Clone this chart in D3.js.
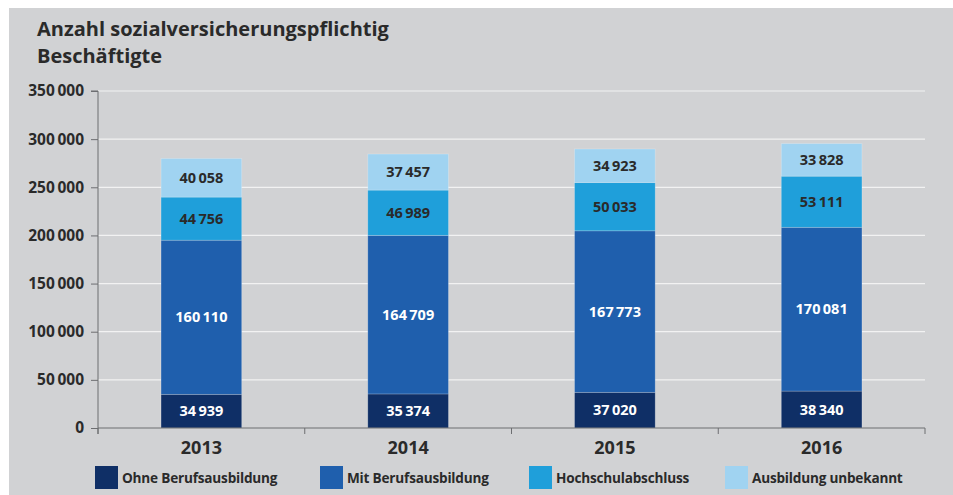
<!DOCTYPE html>
<html>
<head>
<meta charset="utf-8">
<script src="https://cdn.jsdelivr.net/npm/d3@7"></script>
<style>
  body { margin: 0; background: #fff; }
  svg { display: block; font-family: "Open Sans", sans-serif; }
</style>
</head>
<body>
<svg width="953" height="495"></svg>
<script>
// data
const years = ["2013", "2014", "2015", "2016"];
const series = ["Ohne Berufsausbildung", "Mit Berufsausbildung", "Hochschulabschluss", "Ausbildung unbekannt"];
const ohne = [34939, 35374, 37020, 38340];
const mit = [160110, 164709, 167773, 170081];
const hochschule = [44756, 46989, 50033, 53111];
const unbekannt = [40058, 37457, 34923, 33828];
const yTicks = [0, 50000, 100000, 150000, 200000, 250000, 300000, 350000];

const colors = ["#0f2f66", "#1f5fad", "#1f9fda", "#a0d3f1"];
const textColors = ["#fff", "#fff", "#2a2a2a", "#2a2a2a"];

const rows = years.map((y, i) => ({
  year: y,
  [series[0]]: ohne[i],
  [series[1]]: mit[i],
  [series[2]]: hochschule[i],
  [series[3]]: unbekannt[i]
}));

const svg = d3.select("svg");

// grey panel
svg.append("rect").attr("x", 9).attr("y", 8).attr("width", 944).attr("height", 487).attr("fill", "#d1d2d4");

// title
svg.append("text").attr("x", 37).attr("y", 36).attr("font-size", 20).attr("font-weight", 700)
  .attr("fill", "#2a2a2a").text("Anzahl sozialversicherungspflichtig");
svg.append("text").attr("x", 37).attr("y", 63).attr("font-size", 20).attr("font-weight", 700)
  .attr("fill", "#2a2a2a").text("Beschäftigte");

const x = d3.scaleBand().domain(years).range([98, 925]).paddingInner(0.61).paddingOuter(0.305);
const y = d3.scaleLinear().domain([0, 350000]).range([428, 91]);

const fmt = v => d3.format(",")(v).replace(/,/g, "\u2009");

// gridlines
svg.append("g").selectAll("line").data(yTicks.filter(t => t > 0)).join("line")
  .attr("x1", 98).attr("x2", 925)
  .attr("y1", d => y(d)).attr("y2", d => y(d))
  .attr("stroke", "#f2f2f2").attr("stroke-width", 1.2);

// y axis
const yAxis = svg.append("g").attr("transform", "translate(98,0)")
  .call(d3.axisLeft(y).tickValues(yTicks).tickFormat(fmt).tickSize(7).tickPadding(7));
yAxis.select(".domain").attr("stroke", "#6d6e71").attr("d", "M-7,91H0V434");
yAxis.selectAll(".tick line").attr("stroke", "#6d6e71");
yAxis.selectAll("text").attr("font-size", 15.5).attr("font-weight", 700).attr("fill", "#2a2a2a")
  .attr("font-family", "Open Sans, sans-serif");

// bars
const stacked = d3.stack().keys(series)(rows);
const layers = svg.append("g").selectAll("g").data(stacked).join("g")
  .attr("fill", (d, i) => colors[i]);
layers.selectAll("rect").data(d => d).join("rect")
  .attr("x", d => x(d.data.year))
  .attr("width", x.bandwidth())
  .attr("y", d => y(d[1]))
  .attr("height", d => y(d[0]) - y(d[1]))
  .attr("stroke", "rgba(255,255,255,0.25)").attr("stroke-width", 0.8);

// value labels
stacked.forEach((layer, i) => {
  svg.append("g").selectAll("text").data(layer).join("text")
    .attr("x", d => x(d.data.year) + x.bandwidth() / 2)
    .attr("y", d => (y(d[0]) + y(d[1])) / 2)
    .attr("dy", "0.35em")
    .attr("text-anchor", "middle")
    .attr("font-size", 14.5).attr("font-weight", 700)
    .attr("fill", textColors[i])
    .text(d => fmt(d[1] - d[0]));
});

// x axis
const xAxis = svg.append("g").attr("transform", "translate(0,428)")
  .call(d3.axisBottom(x).tickSize(0).tickPadding(10));
xAxis.select(".domain").attr("stroke", "#6d6e71").attr("d", "M98,0H925");
xAxis.selectAll("text").attr("font-size", 18).attr("font-weight", 700).attr("fill", "#2a2a2a")
  .attr("font-family", "Open Sans, sans-serif").attr("dy", "0.9em");
// tick marks between bands
const step = x.step();
svg.append("g").selectAll("line").data(d3.range(years.length + 1)).join("line")
  .attr("x1", d => 98 + d * step).attr("x2", d => 98 + d * step)
  .attr("y1", 428).attr("y2", 434)
  .attr("stroke", "#6d6e71");

// legend
const legendX = [95, 320, 529, 725];
const legend = svg.append("g").selectAll("g").data(series).join("g")
  .attr("transform", (d, i) => `translate(${legendX[i]},466)`);
legend.append("rect").attr("width", 23).attr("height", 23).attr("fill", (d, i) => colors[i]);
legend.append("text").attr("x", 27).attr("y", 17).attr("font-size", 13.6).attr("font-weight", 700)
  .attr("letter-spacing", -0.2)
  .attr("fill", "#2a2a2a").text(d => d);
</script>
</body>
</html>
